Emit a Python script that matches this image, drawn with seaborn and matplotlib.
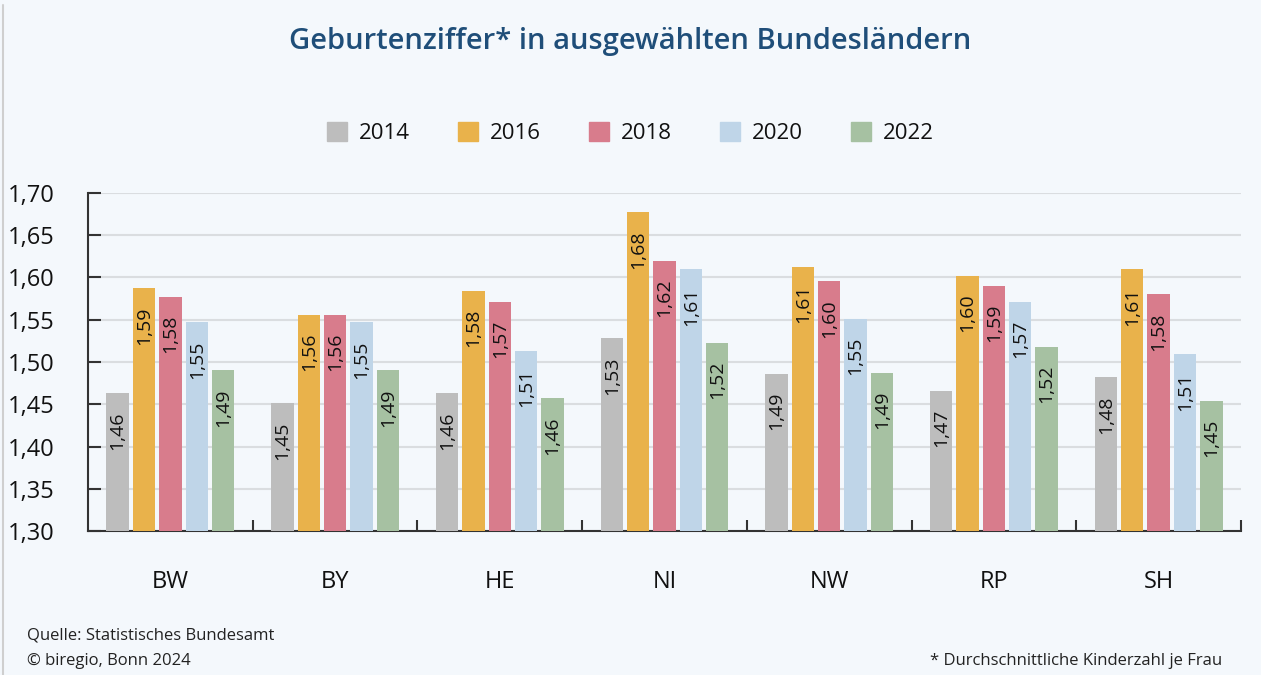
import pandas as pd
import seaborn as sns
import matplotlib.pyplot as plt
from matplotlib.lines import Line2D
from matplotlib.ticker import FixedLocator

# Geburtenziffer nach Bundesland und Jahr
laender = ['BW', 'BY', 'HE', 'NI', 'NW', 'RP', 'SH']
jahre = ['2014', '2016', '2018', '2020', '2022']
werte_2014 = [1.463, 1.451, 1.463, 1.528, 1.486, 1.466, 1.482]
werte_2016 = [1.587, 1.556, 1.584, 1.677, 1.613, 1.602, 1.610]
werte_2018 = [1.577, 1.556, 1.571, 1.620, 1.596, 1.590, 1.580]
werte_2020 = [1.547, 1.547, 1.513, 1.610, 1.551, 1.571, 1.509]
werte_2022 = [1.490, 1.490, 1.457, 1.523, 1.487, 1.518, 1.454]
farben = ['#bdbdbd', '#e9b24b', '#d87c8c', '#bfd5e8', '#a6c1a2']
y_ticks = [1.30, 1.35, 1.40, 1.45, 1.50, 1.55, 1.60, 1.65, 1.70]

rows = []
for jahr, serie in zip(jahre, [werte_2014, werte_2016, werte_2018, werte_2020, werte_2022]):
    for land, w in zip(laender, serie):
        rows.append({'land': land, 'jahr': jahr, 'wert': w})
df = pd.DataFrame(rows)

bg = '#f4f8fc'
sns.set_style('white')
plt.rcParams['font.family'] = ['Open Sans', 'DejaVu Sans']

fig = plt.figure(figsize=(12.61, 6.75), dpi=100, facecolor=bg)
ax = fig.add_axes([0.0698, 0.2133, 0.9143, 0.5008])
ax.set_facecolor(bg)

sns.barplot(data=df, x='land', y='wert', hue='jahr', hue_order=jahre,
            order=laender, palette=farben, width=0.8, gap=0.15,
            saturation=1, linewidth=0, ax=ax, legend=False, zorder=3)

ax.set_ylim(1.30, 1.70)
ax.set_xlim(-0.5, len(laender) - 0.5)
ax.set_yticks(y_ticks)
ax.set_yticklabels([f"{t:.2f}".replace('.', ',') for t in y_ticks], fontsize=17, color='#111')
ax.grid(axis='y', color='#dadde0', lw=1.5, zorder=0)
ax.tick_params(axis='y', left=True, direction='in', length=9, width=1.5, color='#333', pad=24)
ax.tick_params(axis='x', length=0, labelsize=17, pad=28, labelcolor='#111')
ax.xaxis.set_minor_locator(FixedLocator([i + 0.5 for i in range(len(laender))]))
ax.tick_params(axis='x', which='minor', bottom=True, direction='in', length=8, width=1.5, color='#333')
ax.set_xlabel('')
ax.set_ylabel('')
for s in ['top', 'right']:
    ax.spines[s].set_visible(False)
for s in ['left', 'bottom']:
    ax.spines[s].set_color('#333')
    ax.spines[s].set_linewidth(1.5)

# Werte in den Balken
for cont in ax.containers:
    for bar in cont:
        h = bar.get_height()
        ax.annotate(f"{h:.2f}".replace('.', ','),
                    (bar.get_x() + bar.get_width() / 2, h),
                    xytext=(0, -13), textcoords='offset points',
                    rotation=90, ha='center', va='top', fontsize=14,
                    color='#111', zorder=4)

# Legende
handles = [plt.Rectangle((0, 0), 1, 1, color=c) for c in farben]
fig.legend(handles, jahre, loc='center', bbox_to_anchor=(0.5, 1 - 133 / 675),
           ncol=5, frameon=False, fontsize=16, handlelength=0.9, handleheight=0.9,
           handletextpad=0.5, columnspacing=2.2, labelcolor='#111')

fig.text(0.5, 1 - 42 / 675, 'Geburtenziffer* in ausgewählten Bundesländern',
         ha='center', va='center', fontsize=21, color='#1f4e79', fontweight='semibold')

fig.text(27 / 1261, 1 - 636 / 675, 'Quelle: Statistisches Bundesamt',
         ha='left', va='center', fontsize=12, color='#222')
fig.text(27 / 1261, 1 - 661 / 675, '© biregio, Bonn 2024',
         ha='left', va='center', fontsize=12, color='#222')
fig.text(1222 / 1261, 1 - 661 / 675, '* Durchschnittliche Kinderzahl je Frau',
         ha='right', va='center', fontsize=12, color='#222')

fig.add_artist(Line2D([3 / 1261, 3 / 1261], [0, 1 - 5 / 675], color='#cfcfcf', lw=1.5))

fig.savefig('out.png', dpi=100, facecolor=bg)
